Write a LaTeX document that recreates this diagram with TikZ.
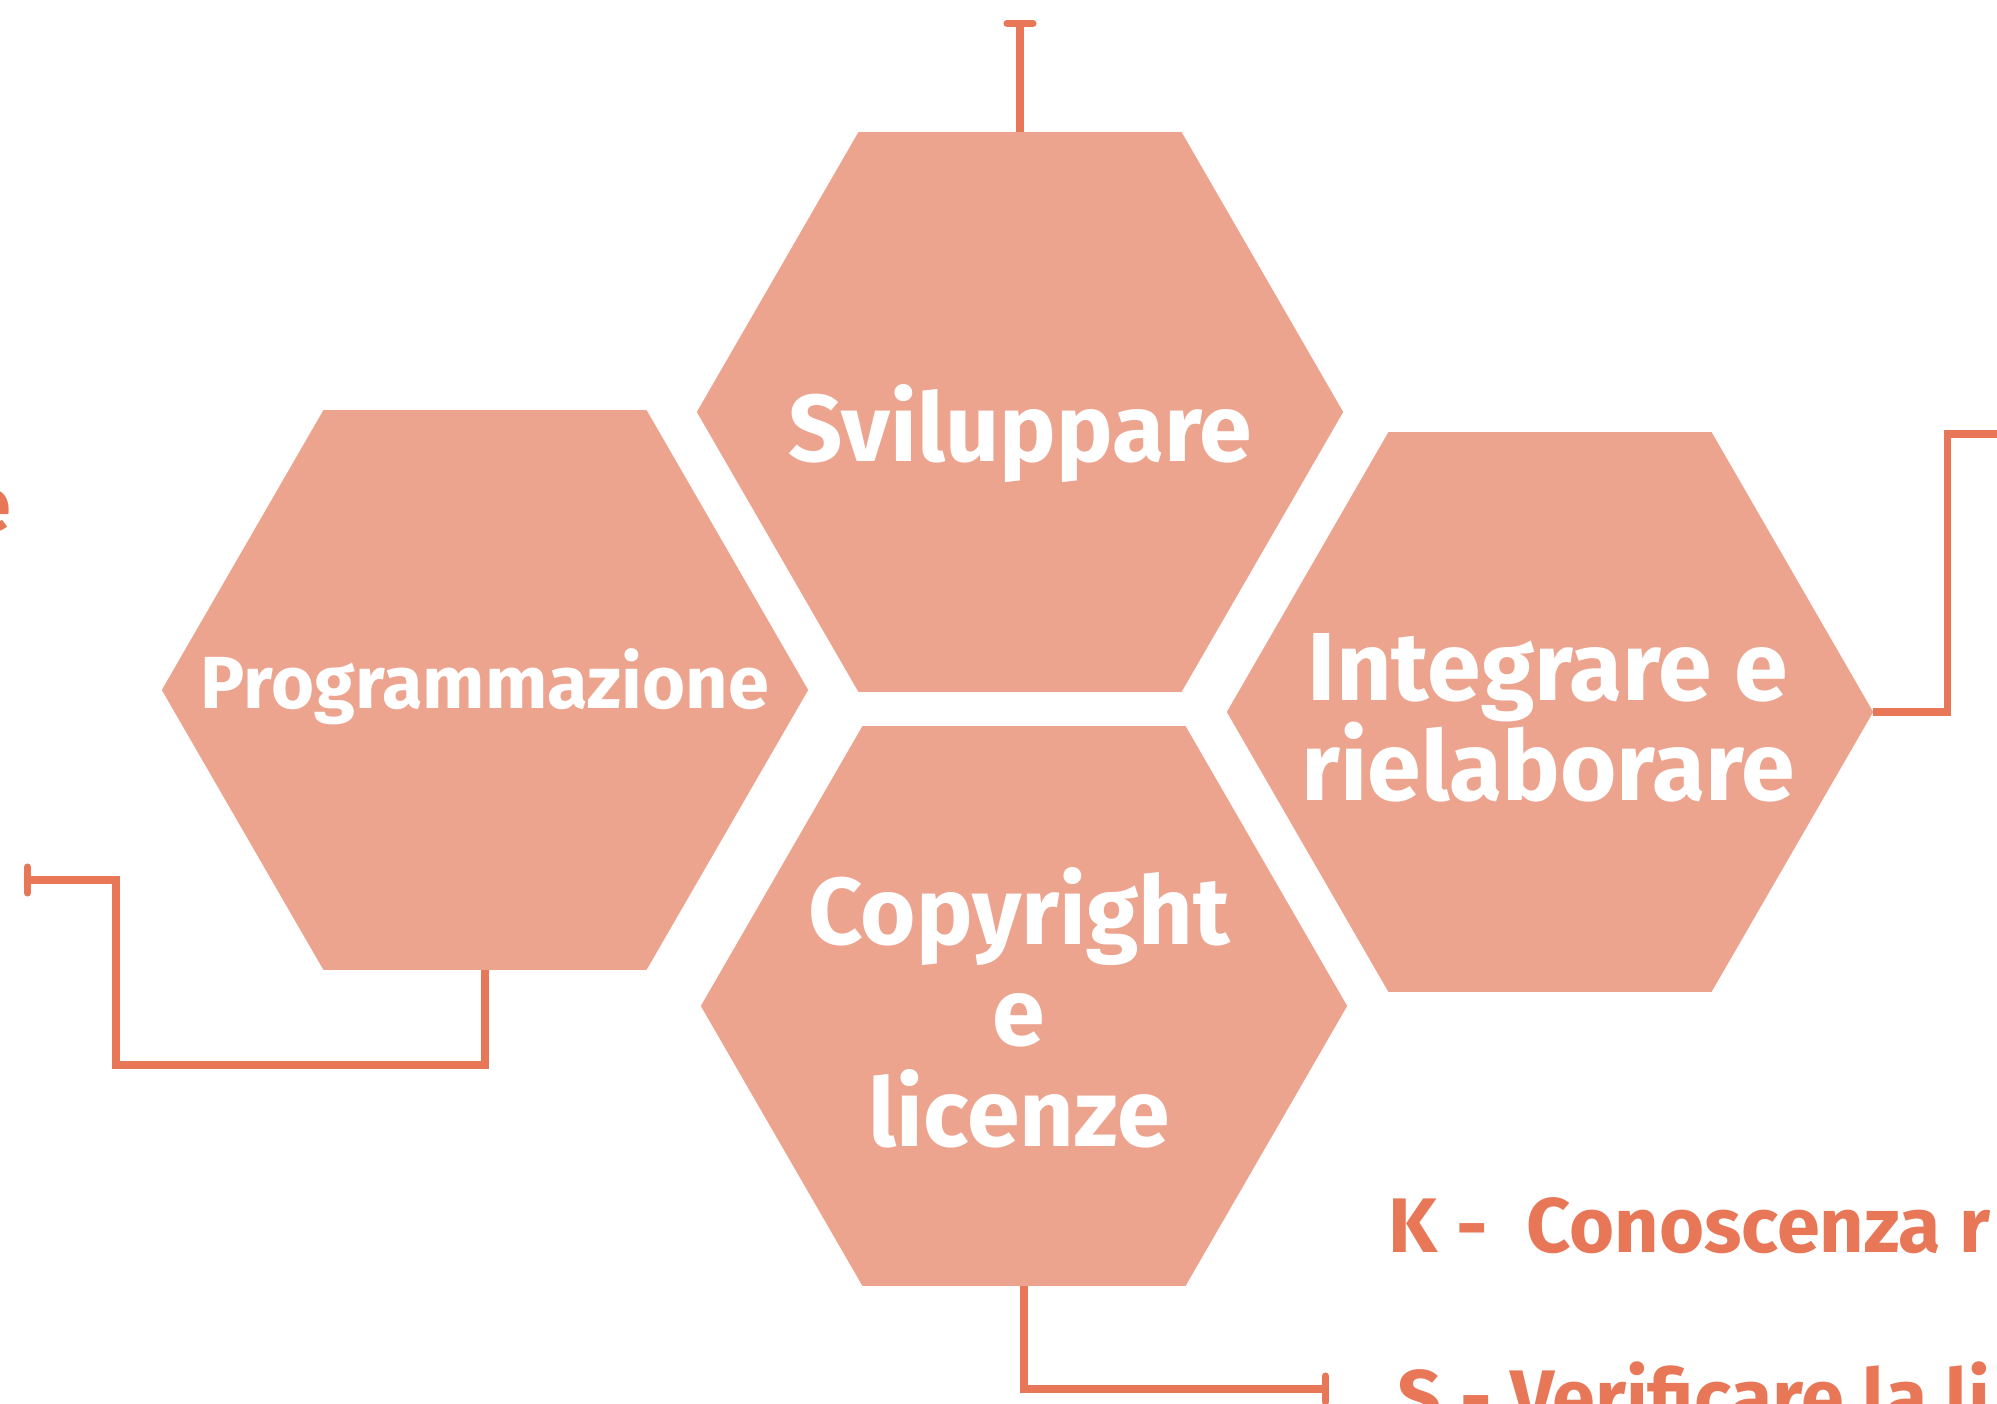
\documentclass[tikz,border=0pt]{standalone}
\usepackage{fontspec}
\setmainfont{Fira Sans}
\usetikzlibrary{shapes.geometric,arrows.meta}
\definecolor{hexfill}{RGB}{237,164,143}
\definecolor{linkorange}{RGB}{232,119,88}

\begin{document}
\begin{tikzpicture}[x=0.01cm,y=-0.01cm,
    hexa/.style={regular polygon, regular polygon sides=6, minimum size=6.46cm,
        fill=hexfill, draw=none, inner sep=0pt, outer sep=0pt},
    hexlabel/.style={text=white, font=\bfseries\fontsize{27}{28.6}\selectfont,
        align=center, inner sep=0pt},
    link/.style={draw=linkorange, line width=2pt},
    tee/.style={-{Bar[width=0.26cm,round]}},
    keytext/.style={text=linkorange, font=\bfseries\fontsize{22}{26}\selectfont,
        inner sep=0pt, anchor=base west}]
    \useasboundingbox (0,0) rectangle (1997,1404); %cornice
    \clip (0,0) rectangle (1997,1404);

    \node[hexa] (svil) at (1020,412) {}; %esagono in alto
    \node[hexa] (prog) at (485,690) {}; %esagono a sinistra
    \node[hexa] (integ) at (1550,712) {}; %esagono a destra
    \node[hexa] (copy) at (1024,1006) {}; %esagono in basso

    % base = riga di base dell'ultima riga
    \node[hexlabel, anchor=base] (sviltxt) at (1020,462) {Sviluppare};
    \node[hexlabel, anchor=base, font=\bfseries\fontsize{21}{25}\selectfont] (progtxt) at (485,709) {Programmazione};
    \node[hexlabel, anchor=base, font=\bfseries\fontsize{27.5}{28.6}\selectfont] (integtxt) at (1548,801) {Integrare e\\rielaborare};
    \node[hexlabel, anchor=base] (copytxt) at (1019,1146) {Copyright\\e\\licenze};

    \coordinate (topend) at (1020,20); %fine linea in alto
    \coordinate (leftend) at (24,880); %fine linea a sinistra
    \coordinate (rightend) at (2010,434); %esce dal bordo
    \coordinate (bottomend) at (1329,1389); %fine linea in basso
    \draw[link, tee] (svil.north) -- (topend);
    \draw[link, tee] (prog.south) |- (116,1065) |- (leftend);
    \draw[link] (integ.east) -| (1947,434) -- (rightend);
    \draw[link, tee] (copy.south) |- (bottomend);

    \node[keytext] (ktext) at (1388,1252) {K -\enspace Conoscenza r};
    \node[keytext] (stext) at (1397,1424) {S - Verificare la li};
    \node[keytext, anchor=base east] (etext) at (12,532) {e};
\end{tikzpicture}
\end{document}
